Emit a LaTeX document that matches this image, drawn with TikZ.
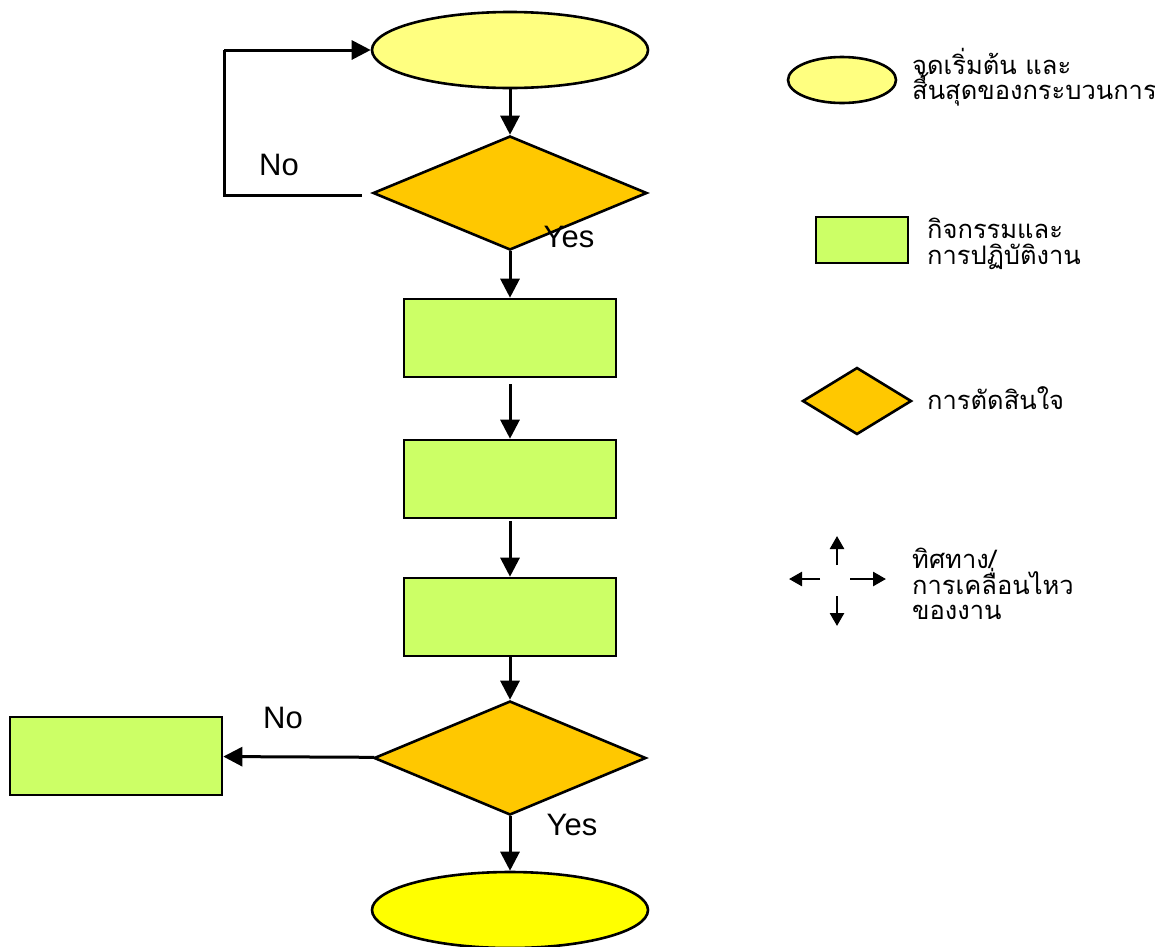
\documentclass[tikz,border=0pt]{standalone}
\usepackage{fontspec}
\setmainfont{Liberation Sans}
\newfontfamily\thaifont[Script=Thai]{Loma}
\usetikzlibrary{shapes.geometric,arrows.meta}
\definecolor{paleyellow}{RGB}{255,255,128}
\definecolor{brightyellow}{RGB}{255,255,0}
\definecolor{decision}{RGB}{255,200,0}
\definecolor{task}{RGB}{204,255,102}
% Thai legend text with fixed line spacing (stacked marks do not push lines apart)
\newcommand\legendthai{\thaifont\fontsize{25.5}{25.5}\selectfont\setlength{\lineskiplimit}{-30pt}}
\begin{document}
\begin{tikzpicture}[x=1pt,y=-1pt,
  terminal/.style={ellipse,draw=black,line width=2.6pt,inner sep=0pt},
  choice/.style={diamond,draw=black,line width=2.6pt,inner sep=0pt,fill=decision},
  taskbox/.style={rectangle,draw=black,line width=2.6pt,inner sep=0pt,fill=task},
  flow/.style={line width=3pt,-{Triangle[length=19pt,width=19pt]}},
  smallflow/.style={line width=2.6pt,-{Triangle[length=13pt,width=14pt]}},
  plainline/.style={line width=3pt},
  yesno/.style={font=\fontsize{31}{31}\selectfont},
  thailabel/.style={anchor=west,align=left,inner sep=0pt,font=\legendthai}]
  \useasboundingbox (0,0) rectangle (1155,946);

  % main flow
  \node[terminal,fill=paleyellow,minimum width=276pt,minimum height=76pt] (start) at (510,50) {};
  \node[choice,minimum width=274pt,minimum height=114pt] (d1) at (510,193) {};
  \node[taskbox,minimum width=212pt,minimum height=78pt] (a1) at (510,338) {};
  \node[taskbox,minimum width=212pt,minimum height=78pt] (a2) at (510,479) {};
  \node[taskbox,minimum width=212pt,minimum height=78pt] (a3) at (510,617) {};
  \node[choice,minimum width=272pt,minimum height=114pt] (d2) at (510,758) {};
  \node[taskbox,minimum width=212pt,minimum height=78pt] (alt) at (116,756) {};
  \node[terminal,fill=brightyellow,minimum width=276pt,minimum height=76pt] (stop) at (510,910) {};

  \draw[flow] (start) -- (d1);
  \draw[flow] (d1) -- (a1);
  \draw[flow,shorten <=6pt] (a1) -- (a2);
  \draw[flow,shorten <=2pt] (a2) -- (a3);
  \draw[flow] (a3) -- (d2);
  \draw[flow] (d2) -- (alt);
  \draw[flow] (d2) -- (stop);

  % loop back from the first decision
  \coordinate (loopA) at (362,195);
  \coordinate (loopB) at (224,195);
  \coordinate (loopC) at (224,50);
  \draw[plainline] (loopA) -- (loopB) -- (loopC);
  \draw[flow] (loopC) -- (start.west);

  \node[yesno] (no1) at (279,165) {No};
  \node[yesno] (yes1) at (569,237) {Yes};
  \node[yesno] (no2) at (283,718) {No};
  \node[yesno] (yes2) at (572,825) {Yes};

  % legend
  \node[terminal,fill=paleyellow,minimum width=108pt,minimum height=46pt] (kStart) at (842,80) {};
  \node[thailabel] (tStart) at (912,77) {จุดเริ่มต้น และ\\สิ้นสุดของกระบวนการ};
  \node[taskbox,minimum width=92pt,minimum height=46pt] (kTask) at (862,240) {};
  \node[thailabel] (tTask) at (927,244) {กิจกรรมและ\\การปฏิบัติงาน};
  \node[choice,minimum width=109pt,minimum height=67pt] (kChoice) at (857,401) {};
  \node[thailabel] (tChoice) at (927,398) {การตัดสินใจ};

  \coordinate (upA) at (837,565);  \coordinate (upB) at (837,536);
  \coordinate (dnA) at (837,596);  \coordinate (dnB) at (837,626);
  \coordinate (ltA) at (820,579);  \coordinate (ltB) at (789,579);
  \coordinate (rtA) at (850,579);  \coordinate (rtB) at (886,579);
  \draw[smallflow] (upA) -- (upB);
  \draw[smallflow] (dnA) -- (dnB);
  \draw[smallflow] (ltA) -- (ltB);
  \draw[smallflow] (rtA) -- (rtB);
  \node[thailabel] (tDir) at (912,584) {ทิศทาง/\\การเคลื่อนไหว\\ของงาน};
\end{tikzpicture}
\end{document}
